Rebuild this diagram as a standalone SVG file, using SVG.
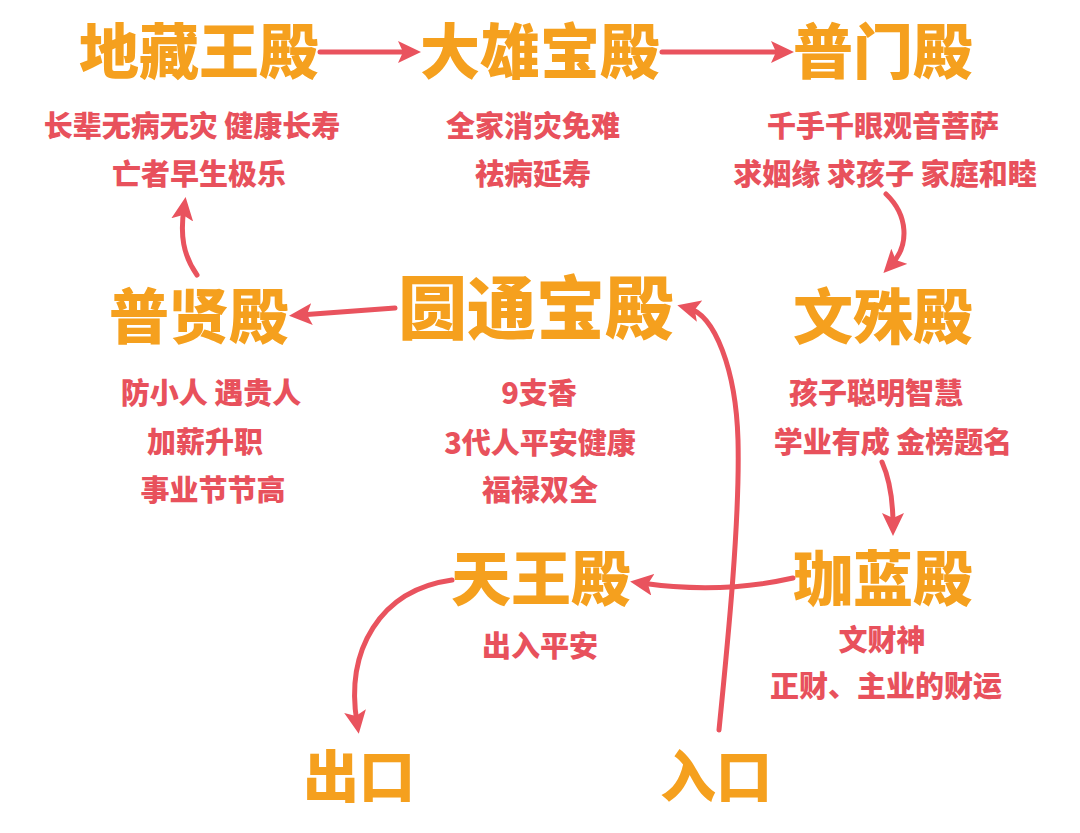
<svg xmlns="http://www.w3.org/2000/svg" width="1080" height="833" viewBox="0 0 1080 833">
<style>
.t{font-family:"Noto Sans CJK SC","Noto Sans",sans-serif;font-weight:900;fill:#F5A01E;text-anchor:middle}
.s{font-family:"Noto Sans CJK SC","Noto Sans",sans-serif;font-weight:900;fill:#E8515C;text-anchor:middle;font-size:29px}
.a{fill:none;stroke:#E9535E;stroke-width:5;stroke-linecap:round}
</style>
<defs>
<marker id="ah" markerUnits="userSpaceOnUse" markerWidth="24" markerHeight="22" refX="12" refY="11" orient="auto" viewBox="0 0 24 22">
<path d="M0,0 L23,11 L0,22 L5,11 Z" fill="#E9535E"/>
</marker>
</defs>
<rect width="1080" height="833" fill="#FFFFFF"/>
<g id="connectors">
<path class="a" d="M320,52 L410,52" marker-end="url(#ah)"/>
<path class="a" d="M662,52 L783,52" marker-end="url(#ah)"/>
<path class="a" d="M886,194 C908,215 910,245 891,265" marker-end="url(#ah)"/>
<path class="a" d="M882,462 C890,480 893,505 893,525" marker-end="url(#ah)"/>
<path class="a" d="M793,578 C740,590 690,590 641,583" marker-end="url(#ah)"/>
<path class="a" d="M452,580 C380,590 345,650 357,723" marker-end="url(#ah)"/>
<path class="a" d="M719,730 C728,640 740,520 738,440 C736,370 715,315 688,308" marker-end="url(#ah)"/>
<path class="a" d="M395,308 L300,315" marker-end="url(#ah)"/>
<path class="a" d="M197,275 C183,255 180,235 184,208" marker-end="url(#ah)"/>
</g>
<g id="dizangwang">
<text class="t" x="199" y="74" font-size="60">地藏王殿</text>
<text class="s" x="192" y="137">长辈无病无灾 健康长寿</text>
<text class="s" x="199" y="185">亡者早生极乐</text>
</g>
<g id="daxiong">
<text class="t" x="540" y="74" font-size="60">大雄宝殿</text>
<text class="s" x="533" y="137">全家消灾免难</text>
<text class="s" x="533" y="185">祛病延寿</text>
</g>
<g id="pumen">
<text class="t" x="883" y="74" font-size="60">普门殿</text>
<text class="s" x="883" y="137">千手千眼观音菩萨</text>
<text class="s" x="885" y="185">求姻缘 求孩子 家庭和睦</text>
</g>
<g id="puxian">
<text class="t" x="199" y="339" font-size="60">普贤殿</text>
<text class="s" x="211" y="404">防小人 遇贵人</text>
<text class="s" x="205" y="453">加薪升职</text>
<text class="s" x="213" y="501">事业节节高</text>
</g>
<g id="yuantong">
<text class="t" x="536" y="334" font-size="69">圆通宝殿</text>
<text class="s" x="539" y="404">9支香</text>
<text class="s" x="540" y="454">3代人平安健康</text>
<text class="s" x="540" y="501">福禄双全</text>
</g>
<g id="wenshu">
<text class="t" x="883" y="339" font-size="60">文殊殿</text>
<text class="s" x="876" y="404">孩子聪明智慧</text>
<text class="s" x="893" y="453">学业有成 金榜题名</text>
</g>
<g id="qielan">
<text class="t" x="883" y="601" font-size="60">珈蓝殿</text>
<text class="s" x="882" y="651">文财神</text>
<text class="s" x="886" y="697">正财、主业的财运</text>
</g>
<g id="tianwang">
<text class="t" x="541" y="601" font-size="60">天王殿</text>
<text class="s" x="540" y="657">出入平安</text>
</g>
<g id="exit">
<text class="t" x="359" y="797" font-size="56">出口</text>
</g>
<g id="entrance">
<text class="t" x="716" y="797" font-size="56">入口</text>
</g>
</svg>
